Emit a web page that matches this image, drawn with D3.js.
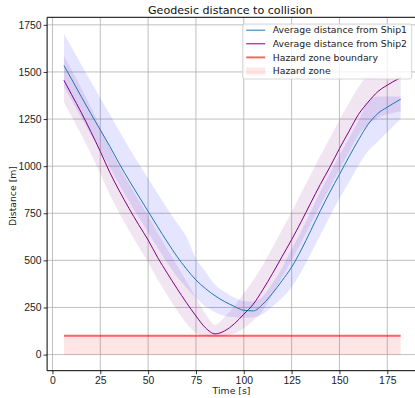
<!DOCTYPE html>
<html>
<head>
<meta charset="utf-8">
<script src="https://cdn.jsdelivr.net/npm/d3@7"></script>
<style>
  html, body { margin: 0; padding: 0; background: #fff; }
  svg { display: block; font-family: "DejaVu Sans", sans-serif; }
  .tick-label { font-size: 10.4px; fill: #222; }
</style>
</head>
<body>
<div id="chart"></div>
<script>
// sample times [s]
const times = [6, 10, 15, 20, 25, 30, 35, 40, 45, 50, 55, 60, 65, 70, 75, 80, 85, 90,
  95, 100, 105, 110, 115, 120, 125, 130, 135, 140, 145, 150, 155, 160, 165, 170, 175, 182]

// Ship1 average distance and its band
const ship1Mean = [1534, 1462, 1370, 1280, 1192, 1105, 1012, 925, 842, 760, 678, 598, 522, 455,
  396, 350, 312, 281, 256, 235, 232, 268, 325, 392, 464, 555, 658, 763, 862, 956, 1050, 1140,
  1222, 1279, 1313, 1355]
const ship1Upper = [1703, 1632, 1540, 1450, 1362, 1275, 1185, 1098, 1015, 935, 855, 775, 700,
  625, 510, 440, 370, 332, 303, 285, 282, 310, 380, 460, 560, 655, 760, 865, 962, 1058, 1150,
  1242, 1345, 1370, 1370, 1370]
const ship1Lower = [1420, 1350, 1258, 1168, 1080, 993, 900, 813, 730, 648, 566, 488, 415, 355,
  300, 255, 225, 205, 198, 195, 198, 215, 255, 300, 358, 440, 535, 635, 733, 828, 915, 1003,
  1080, 1130, 1180, 1250]

// Ship2 average distance and its band
const ship2Mean = [1456, 1380, 1286, 1184, 1078, 966, 868, 776, 690, 608, 515, 432, 352, 276,
  205, 142, 110, 126, 163, 214, 268, 345, 430, 520, 610, 705, 805, 903, 995, 1093, 1185, 1275,
  1340, 1395, 1430, 1470]
const ship2Upper = [1587, 1510, 1416, 1314, 1208, 1096, 998, 906, 820, 738, 645, 560, 475, 390,
  300, 215, 158, 200, 255, 325, 395, 475, 568, 662, 757, 857, 957, 1055, 1150, 1245, 1335,
  1420, 1478, 1485, 1485, 1485]
const ship2Lower = [1340, 1262, 1168, 1066, 960, 848, 750, 658, 572, 490, 398, 315, 236, 165,
  115, 98, 95, 100, 112, 140, 180, 235, 320, 410, 500, 595, 695, 793, 885, 983, 1075, 1165,
  1220, 1255, 1275, 1290]

// hazard zone radius [m]
const hazardRadius = 100

const xTicks = [0, 25, 50, 75, 100, 125, 150, 175]
const yTicks = [0, 250, 500, 750, 1000, 1250, 1500, 1750]

const legendItems = [
  { label: "Average distance from Ship1", kind: "line", color: "#1f77b4", width: 1, opacity: 1 },
  { label: "Average distance from Ship2", kind: "line", color: "purple", width: 1, opacity: 1 },
  { label: "Hazard zone boundary", kind: "line", color: "red", width: 2, opacity: 0.6 },
  { label: "Hazard zone", kind: "patch", color: "red", opacity: 0.1 },
]

const width = 415
const height = 398
const margin = { top: 17.3, right: -2.5, bottom: 27.3, left: 47.1 }
const boundedWidth = width - margin.left - margin.right
const boundedHeight = height - margin.top - margin.bottom

const xScale = d3.scaleLinear()
  .domain([-2.8, 190.8])
  .range([0, boundedWidth])
const yScale = d3.scaleLinear()
  .domain([-85.5, 1790])
  .range([boundedHeight, 0])

const svg = d3.select("#chart")
  .append("svg")
    .attr("width", width)
    .attr("height", height)

svg.append("defs").append("clipPath")
    .attr("id", "plot-clip")
  .append("rect")
    .attr("width", boundedWidth)
    .attr("height", boundedHeight)

const bounds = svg.append("g")
  .attr("transform", `translate(${margin.left},${margin.top})`)

// grid lines
bounds.append("g")
  .selectAll("line")
  .data(xTicks)
  .join("line")
    .attr("x1", d => xScale(d))
    .attr("x2", d => xScale(d))
    .attr("y1", 0)
    .attr("y2", boundedHeight)
    .attr("stroke", "#b0b0b0")
    .attr("stroke-width", 0.8)

bounds.append("g")
  .selectAll("line")
  .data(yTicks)
  .join("line")
    .attr("x1", 0)
    .attr("x2", boundedWidth)
    .attr("y1", d => yScale(d))
    .attr("y2", d => yScale(d))
    .attr("stroke", "#b0b0b0")
    .attr("stroke-width", 0.8)

const plot = bounds.append("g").attr("clip-path", "url(#plot-clip)")

const band = (upper, lower) => d3.area()
  .x((d, i) => xScale(times[i]))
  .y0((d, i) => yScale(lower[i]))
  .y1((d, i) => yScale(upper[i]))
  .curve(d3.curveMonotoneX)

const line = values => d3.line()
  .x((d, i) => xScale(times[i]))
  .y((d, i) => yScale(values[i]))
  .curve(d3.curveMonotoneX)

// bands
plot.append("path")
  .attr("d", band(ship1Upper, ship1Lower)(times))
  .attr("fill", "blue")
  .attr("fill-opacity", 0.1)

plot.append("path")
  .attr("d", band(ship2Upper, ship2Lower)(times))
  .attr("fill", "purple")
  .attr("fill-opacity", 0.1)

// hazard zone
const hazardTimes = [times[0], times[times.length - 1]]
plot.append("rect")
  .attr("x", xScale(hazardTimes[0]))
  .attr("y", yScale(hazardRadius))
  .attr("width", xScale(hazardTimes[1]) - xScale(hazardTimes[0]))
  .attr("height", yScale(0) - yScale(hazardRadius))
  .attr("fill", "red")
  .attr("fill-opacity", 0.1)

// average lines
plot.append("path")
  .attr("d", line(ship1Mean)(times))
  .attr("fill", "none")
  .attr("stroke", "#1f77b4")
  .attr("stroke-width", 1)

plot.append("path")
  .attr("d", line(ship2Mean)(times))
  .attr("fill", "none")
  .attr("stroke", "purple")
  .attr("stroke-width", 1)

plot.append("line")
  .attr("x1", xScale(hazardTimes[0]))
  .attr("x2", xScale(hazardTimes[1]))
  .attr("y1", yScale(hazardRadius))
  .attr("y2", yScale(hazardRadius))
  .attr("stroke", "red")
  .attr("stroke-opacity", 0.6)
  .attr("stroke-width", 1.8)

// spines
bounds.append("line")
  .attr("x1", 0).attr("x2", 0)
  .attr("y1", 0).attr("y2", boundedHeight)
  .attr("stroke", "#000").attr("stroke-width", 1)
bounds.append("line")
  .attr("x1", 0).attr("x2", boundedWidth)
  .attr("y1", boundedHeight).attr("y2", boundedHeight)
  .attr("stroke", "#000").attr("stroke-width", 1)
bounds.append("line")
  .attr("x1", 0).attr("x2", boundedWidth)
  .attr("y1", 0).attr("y2", 0)
  .attr("stroke", "#000").attr("stroke-width", 1)

// axes
const xAxis = d3.axisBottom(xScale)
  .tickValues(xTicks)
  .tickFormat(d3.format("d"))
  .tickSize(3.5)
  .tickPadding(2.5)
const yAxis = d3.axisLeft(yScale)
  .tickValues(yTicks)
  .tickFormat(d3.format("d"))
  .tickSize(3.5)
  .tickPadding(2)

const xAxisGroup = bounds.append("g")
  .attr("transform", `translate(0,${boundedHeight})`)
  .call(xAxis)
const yAxisGroup = bounds.append("g").call(yAxis)

;[xAxisGroup, yAxisGroup].forEach(g => {
  g.select(".domain").remove()
  g.selectAll(".tick line").attr("stroke", "#000").attr("stroke-width", 0.8)
  g.selectAll(".tick text")
    .attr("class", "tick-label")
    .attr("font-family", null)
    .attr("font-size", null)
})

// labels
svg.append("text")
  .attr("x", margin.left + boundedWidth / 2 - 2)
  .attr("y", 14)
  .attr("text-anchor", "middle")
  .attr("font-size", "11.1px")
  .attr("fill", "#111")
  .text("Geodesic distance to collision")

svg.append("text")
  .attr("x", 231.5)
  .attr("y", 394)
  .attr("text-anchor", "middle")
  .attr("font-size", "9.3px")
  .attr("fill", "#222")
  .text("Time [s]")

svg.append("text")
  .attr("transform", "translate(16,196) rotate(-90)")
  .attr("text-anchor", "middle")
  .attr("font-size", "9.3px")
  .attr("fill", "#222")
  .text("Distance [m]")

// legend
const legend = svg.append("g").attr("transform", "translate(242.7,24)")
legend.append("rect")
  .attr("width", 169)
  .attr("height", 55)
  .attr("rx", 2)
  .attr("fill", "#fff")
  .attr("fill-opacity", 0.8)
  .attr("stroke", "#cccccc")
  .attr("stroke-width", 0.8)

const rows = legend.selectAll("g.row")
  .data(legendItems)
  .join("g")
    .attr("class", "row")
    .attr("transform", (d, i) => `translate(0,${6.2 + i * 13.6})`)

rows.filter(d => d.kind === "line").append("line")
  .attr("x1", 3.5).attr("x2", 22.5)
  .attr("stroke", d => d.color)
  .attr("stroke-width", d => d.width)
  .attr("stroke-opacity", d => d.opacity)

rows.filter(d => d.kind === "patch").append("rect")
  .attr("x", 3.5).attr("y", -3.5)
  .attr("width", 19).attr("height", 7)
  .attr("fill", d => d.color)
  .attr("fill-opacity", d => d.opacity)

rows.append("text")
  .attr("x", 30)
  .attr("dy", "0.35em")
  .attr("font-size", "9.3px")
  .attr("fill", "#222")
  .text(d => d.label)
</script>
</body>
</html>
